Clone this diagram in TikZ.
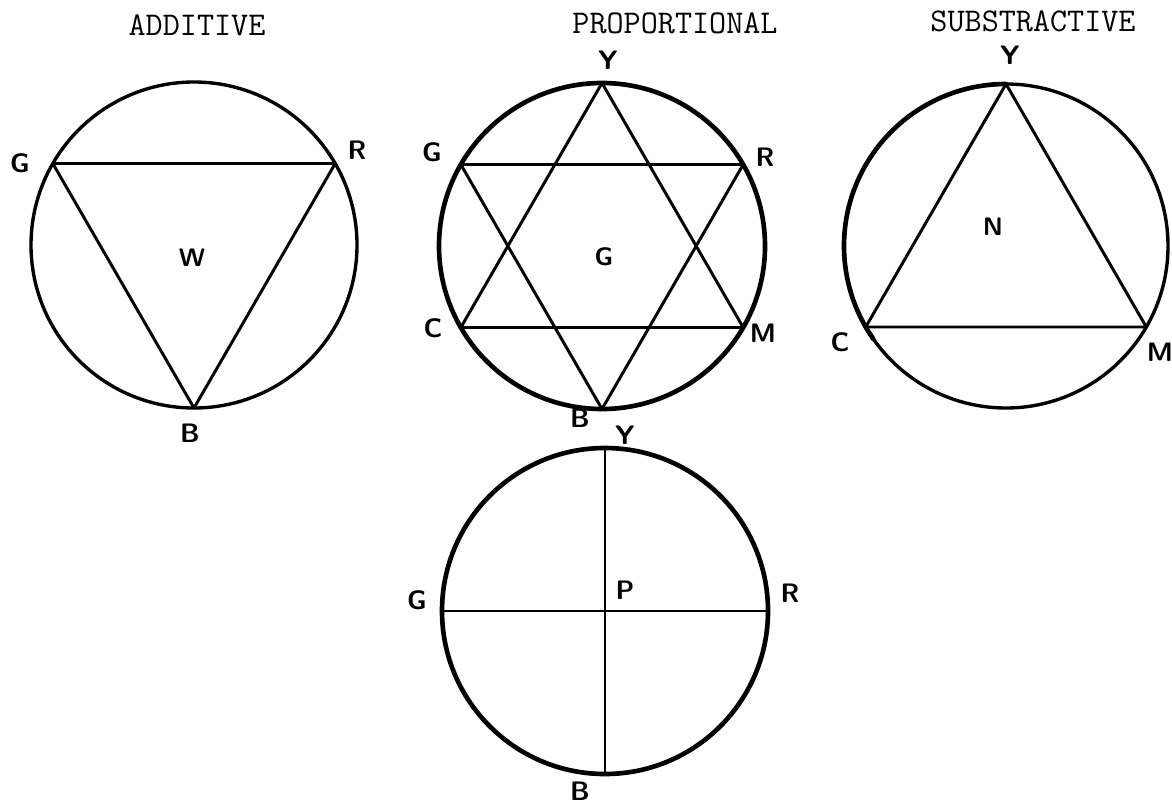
\documentclass[tikz,border=0pt]{standalone}
\begin{document}
\begin{tikzpicture}[x=0.25mm,y=-0.25mm,line cap=round,line join=round,
  rim/.style={line width=2.4pt},
  heavyrim/.style={line width=3.3pt},
  chord/.style={line width=2.1pt},
  lbl/.style={font=\fontsize{19}{22}\selectfont\sffamily\bfseries,inner sep=0pt},
  mid/.style={font=\fontsize{18}{21}\selectfont\sffamily\bfseries,inner sep=0pt},
  ttl/.style={font=\fontsize{23.6}{28}\selectfont\ttfamily,inner sep=0pt}]
  \useasboundingbox (0,0) rectangle (1172,806);
  % Additive: triangle pointing down in the first circle.
  \coordinate (O1) at (194,245);
  \coordinate (G1) at (52.8,163.5);
  \coordinate (R1) at (335.2,163.5);
  \coordinate (B1) at (194,408);
  \draw[rim] (O1) circle[radius=163];
  \draw[chord] (G1)--(R1)--(B1)--cycle;
  \node[ttl] (t1) at (197,25) {ADDITIVE};
  \node[lbl] (g1) at (20,163) {G};
  \node[lbl] (r1) at (357,150) {R};
  \node[lbl] (b1) at (190,433) {B};
  \node[mid] (w1) at (192,258) {W};

  % Proportional: both triangles together.
  \coordinate (O2) at (602,246);
  \coordinate (Y2) at (602,83);
  \coordinate (B2) at (602,409);
  \coordinate (G2) at (460.8,164.5);
  \coordinate (R2) at (743.2,164.5);
  \coordinate (C2) at (460.8,327.5);
  \coordinate (M2) at (743.2,327.5);
  \draw[heavyrim] (O2) circle[radius=163];
  \draw[chord] (Y2)--(C2)--(M2)--cycle;
  \draw[chord] (G2)--(R2)--(B2)--cycle;
  \node[ttl] (t2) at (675,23) {PROPORTIONAL};
  \node[lbl] (y2) at (608,60) {Y};
  \node[lbl] (g2) at (432,152) {G};
  \node[lbl] (r2) at (765,157) {R};
  \node[lbl] (c2) at (433,328) {C};
  \node[lbl] (m2) at (763,333) {M};
  \node[lbl] (b2) at (580,418) {B};
  \node[mid] (gr2) at (604,257) {G};

  % Substractive: triangle pointing up.
  \coordinate (O3) at (1006,246);
  \coordinate (Y3) at (1006,84);
  \coordinate (C3) at (865.7,327);
  \coordinate (M3) at (1146.3,327);
  \draw[rim] (O3) circle[radius=162];
  \draw[heavyrim] (Y3) arc[start angle=-90,end angle=-215,radius=162];
  \draw[chord] (Y3)--(C3)--(M3)--cycle;
  \node[ttl] (t3) at (1033,21) {SUBSTRACTIVE};
  \node[lbl] (y3) at (1010,55) {Y};
  \node[lbl] (c3) at (840,342) {C};
  \node[lbl] (m3) at (1160,352) {M};
  \node[mid] (n3) at (993,227) {N};

  % The cross below.
  \coordinate (O4) at (605,611);
  \coordinate (Y4) at (605,448);
  \coordinate (B4) at (605,774);
  \coordinate (G4) at (442,611);
  \coordinate (R4) at (768,611);
  \draw[heavyrim] (O4) circle[radius=163];
  \draw[chord] (Y4)--(B4) (G4)--(R4);
  \node[lbl] (y4) at (625,435) {Y};
  \node[lbl] (g4) at (417,600) {G};
  \node[lbl] (p4) at (625,590) {P};
  \node[lbl] (r4) at (790,593) {R};
  \node[lbl] (b4) at (580,791) {B};
\end{tikzpicture}
\end{document}
